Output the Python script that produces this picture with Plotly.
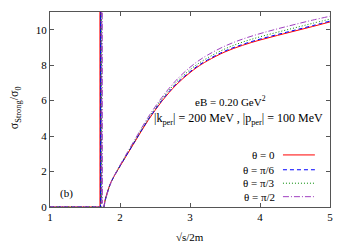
import plotly.graph_objects as go

# ---- data ----
x_grid = [1.77, 1.79, 1.82, 1.86, 1.90, 2.0, 2.1, 2.2, 2.3, 2.4, 2.5, 2.6, 2.7, 2.8,
          2.9, 3.0, 3.1, 3.25, 3.5, 3.75, 4.0, 4.25, 4.5, 4.75, 5.0]
red_y = [0, 0.45, 0.85, 1.3, 1.62, 2.3, 2.95, 3.6, 4.25, 4.88, 5.45, 5.98, 6.45, 6.88,
         7.25, 7.58, 7.88, 8.25, 8.75, 9.12, 9.42, 9.68, 9.93, 10.18, 10.44]
blue_y = [0, 0.4, 0.82, 1.28, 1.62, 2.31, 2.97, 3.62, 4.28, 4.91, 5.48, 6.02, 6.5, 6.93,
          7.3, 7.63, 7.93, 8.3, 8.8, 9.17, 9.47, 9.73, 9.98, 10.23, 10.49]
green_y = [0, 0.38, 0.8, 1.27, 1.62, 2.33, 3.0, 3.66, 4.33, 4.97, 5.55, 6.09, 6.58, 7.02,
           7.4, 7.74, 8.04, 8.41, 8.92, 9.3, 9.6, 9.86, 10.11, 10.36, 10.6]
purple_y = [0, 0.35, 0.78, 1.26, 1.63, 2.36, 3.05, 3.72, 4.4, 5.05, 5.64, 6.19, 6.69, 7.14,
            7.53, 7.88, 8.19, 8.57, 9.08, 9.47, 9.78, 10.05, 10.3, 10.54, 10.76]

# threshold spike (x position where each curve diverges)
spike_x = {"red": [1.0, 1.714, 1.715, 1.722], "blue": [1.0, 1.721, 1.722, 1.729],
           "green": [1.0, 1.729, 1.730, 1.737], "purple": [1.0, 1.740, 1.741, 1.748]}
spike_y = [0, 0, 40, 0.2]

labels = ["θ = 0", "θ = π/6", "θ = π/3", "θ = π/2"]
colors = ["#ff0000", "#0000ff", "#008a00", "#a040c0"]
dashes = ["solid", "4px,3px", "1px,2px", "6px,2px,1px,2px"]
series = [("red", red_y), ("blue", blue_y), ("green", green_y), ("purple", purple_y)]

FONT = "Liberation Serif"

fig = go.Figure()
for (key, ys), lab, col, dsh in zip(series, labels, colors, dashes):
    fig.add_trace(go.Scatter(
        x=spike_x[key], y=spike_y, mode="lines", name=lab,
        line=dict(color=col, width=1, dash=dsh), showlegend=False))
    fig.add_trace(go.Scatter(
        x=x_grid, y=ys, mode="lines", name=lab, line_shape="spline",
        line=dict(color=col, width=1, dash=dsh), showlegend=False))

# gnuplot-style key: text right-aligned, sample line on the right
rows = [0.267, 0.191, 0.122, 0.053]
for lab, col, dsh, yy in zip(labels, colors, dashes, rows):
    fig.add_annotation(x=0.811, y=yy, xref="paper", yref="paper", text=lab,
                       showarrow=False, xanchor="right", yanchor="middle",
                       font=dict(family=FONT, size=11, color="black"))
    fig.add_shape(type="line", xref="paper", yref="paper", x0=0.832, x1=0.946,
                  y0=yy, y1=yy, line=dict(color=col, width=1, dash=dsh))

fig.add_annotation(x=0.643, y=0.542, xref="paper", yref="paper",
                   text="eB = 0.20 GeV<sup>2</sup>", showarrow=False,
                   font=dict(family=FONT, size=11, color="black"))
fig.add_annotation(x=0.364, y=0.451, xref="paper", yref="paper", xanchor="left",
                   text="|k<sub>per</sub>| = 200 MeV , |p<sub>per</sub>| = 100 MeV",
                   showarrow=False, font=dict(family=FONT, size=12, color="black"))
fig.add_annotation(x=0.029, y=0.068, xref="paper", yref="paper", xanchor="left",
                   yanchor="middle", text="(b)", showarrow=False,
                   font=dict(family=FONT, size=11, color="black"))

# axis titles
fig.add_annotation(x=-0.16, y=0.508, xref="paper", yref="paper", textangle=-90,
                   text="σ<sub>Strong</sub>/σ<sub>0</sub>", showarrow=False,
                   font=dict(family=FONT, size=12, color="black"))
fig.add_annotation(x=0.5, y=-0.152, xref="paper", yref="paper", yanchor="middle",
                   text="√s/2m", showarrow=False,
                   font=dict(family=FONT, size=11, color="black"))

axis_common = dict(showgrid=False, zeroline=False, showline=True, linecolor="#555555",
                   linewidth=1, mirror="ticks", ticks="inside", ticklen=4,
                   tickcolor="#555555", tickfont=dict(family=FONT, size=11, color="black"))

fig.update_xaxes(range=[1, 5], tickvals=[1, 2, 3, 4, 5], **axis_common)
fig.update_yaxes(range=[0, 11], tickvals=[0, 2, 4, 6, 8, 10], **axis_common)

# the page body adds an 8 px offset, so the figure is sized to the visible area
fig.update_layout(width=342, height=237, margin=dict(l=42, r=20, t=4, b=38),
                  paper_bgcolor="white", plot_bgcolor="white",
                  font=dict(family=FONT, size=11, color="black"))

fig.write_html("out.html")
